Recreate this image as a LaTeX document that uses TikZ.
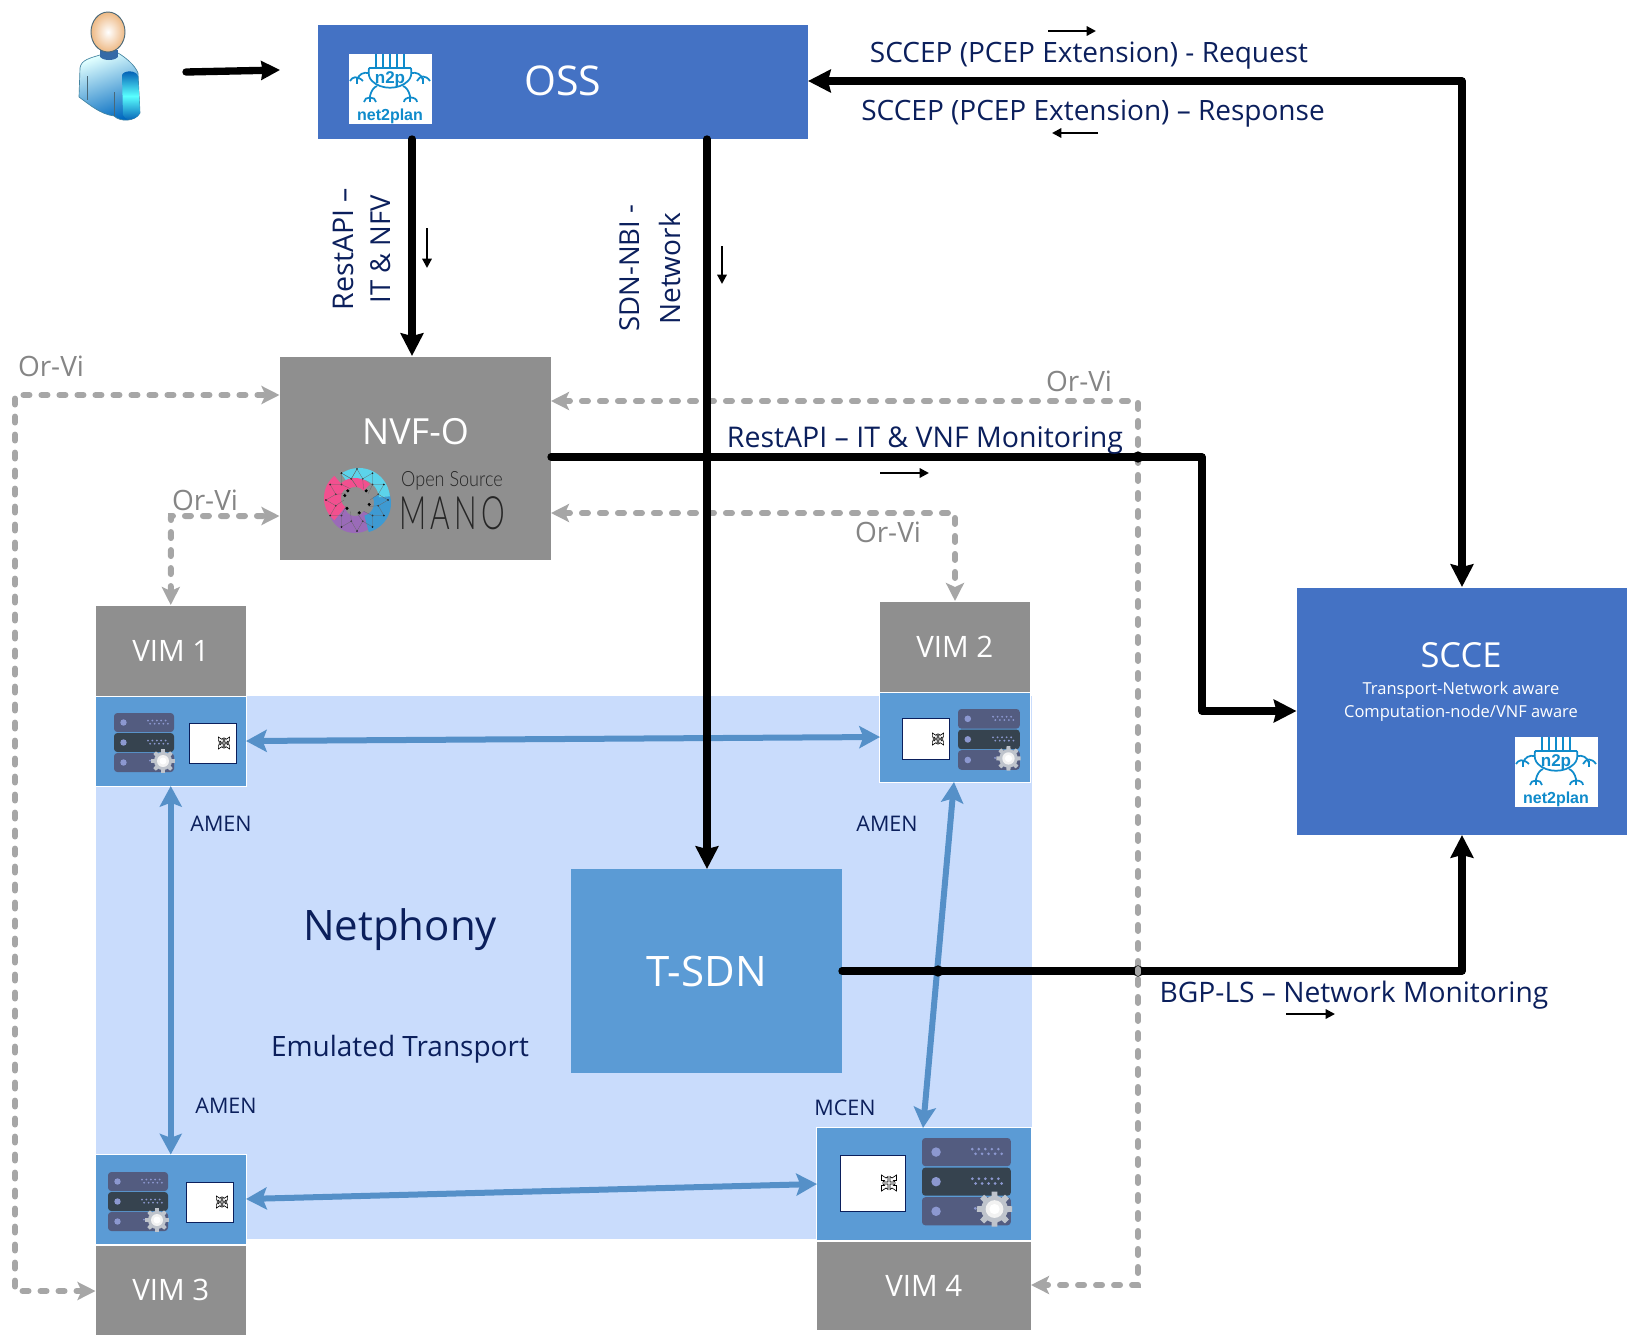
\documentclass[tikz,border=0pt]{standalone}
\usepackage{fontspec}
\setmainfont{Open Sans}
\newfontfamily\logofont{Liberation Sans}
\newfontfamily\manofont{Lato Light}
\usetikzlibrary{arrows.meta,calc}
\definecolor{ossblue}{HTML}{4472C4}
\definecolor{boxgray}{HTML}{8F8F8F}
\definecolor{midblue}{HTML}{5B9BD5}
\definecolor{palebg}{HTML}{C9DCFC}
\definecolor{navytxt}{HTML}{0B1F5C}
\definecolor{dashgray}{HTML}{A6A6A6}
\definecolor{labgray}{HTML}{858585}
\definecolor{logoblue}{HTML}{0F8BCB}
\definecolor{arrblue}{HTML}{5590C8}
\definecolor{srvA}{HTML}{535C80}
\definecolor{srvB}{HTML}{36434F}
\definecolor{srvDot}{HTML}{8C98D0}
\definecolor{geargray}{HTML}{BFC4CC}
\definecolor{manocyan}{HTML}{5CD3EA}
\definecolor{manoblue}{HTML}{3E9AD2}
\definecolor{manopurple}{HTML}{9A6BB8}
\definecolor{manopink}{HTML}{F2508F}
\newcommand{\fsz}[1]{\pgfmathsetmacro{\fszv}{#1*0.75}\fontsize{\fszv}{\fszv}\selectfont}
% box from corners
\newcommand{\pbox}[7]{\node[#2,minimum width={(#5-#3)*0.75pt},minimum height={(#6-#4)*0.75pt}] (#1) at ({(#3+#5)/2},{(#4+#6)/2}) {#7};}
% net2plan logo, top-left at (#1,#2)
\newcommand{\ntplogo}[2]{\begin{scope}[shift={(#1,#2)}]
 \fill[white] (0,0) rectangle (83,70);
 \begin{scope}[draw=logoblue,line width=1.3pt]
 \foreach \v in {27,34,41,48,55}{\draw (\v,0)--(\v,14);}
 \draw (20,14)--(62,14);
 \draw (20,14) .. controls (19,20) and (20,24) .. (23,27) .. controls (32,36) and (50,36) .. (59,27) .. controls (62,24) and (63,20) .. (62,14);
 \draw (20,19) .. controls (14,18) and (10,20) .. (8,26);
 \draw (1,27) .. controls (3,23) and (8,21) .. (14,27);
 \draw (8,24)--(8,30);
 \draw (62,19) .. controls (68,18) and (72,20) .. (74,26);
 \draw (68,27) .. controls (71,21) and (77,21) .. (81,27);
 \draw (74,24)--(74,30);
 \draw (28,32) .. controls (25,33) and (22,37) .. (21,42);
 \draw (15,48) .. controls (15,42) and (27,42) .. (27,48);
 \draw (21,42)--(21,48);
 \draw (54,32) .. controls (57,33) and (60,37) .. (61,42);
 \draw (55,48) .. controls (55,42) and (68,42) .. (68,48);
 \draw (61,42)--(61,48);
 \end{scope}
 \node[text=logoblue,inner sep=0] at (41,25) {\logofont\bfseries\fsz{17}n2p};
 \node[text=logoblue,inner sep=0] at (41,62.5) {\logofont\bfseries\fsz{16}net2plan};
\end{scope}}
% server stack, top-left (#1,#2), scale #3 (1 = 60 px wide)
\newcommand{\srvicon}[3]{\begin{scope}[shift={(#1,#2)},scale=#3]
 \fill[srvA,rounded corners=2.5] (0,0) rectangle (60,19);
 \fill[srvB,rounded corners=2.5] (0,20) rectangle (60,39);
 \fill[srvA,rounded corners=2.5] (0,40) rectangle (60,59);
 \foreach \yy in {9.5,29.5,49.5}{\fill[srvDot] (9.5,\yy) circle[radius=3.2];}
 \foreach \yy in {7.5,27.5}{\foreach \xx in {34,38.4,42.8,47.2,51.6}{\fill[srvDot] (\xx,\yy) circle[radius=1];\fill[srvDot] (\xx+2.2,\yy+3.2) circle[radius=1];}}
 \fill[srvDot] (36,47.5) circle[radius=1];
 \foreach \a in {0,45,...,315}{\fill[geargray] ($(49,48)+(\a-15:8)$) -- ($(49,48)+(\a-9:12)$) -- ($(49,48)+(\a+9:12)$) -- ($(49,48)+(\a+15:8)$) -- cycle;}
 \fill[geargray] (49,48) circle[radius=9];
 \fill[gray!10!white] (49,48) circle[radius=6];
 \fill[white] (49,48) circle[radius=3.5];
\end{scope}}
% small glyph
\newcommand{\glyph}[3]{\begin{scope}[shift={(#1,#2)},scale=#3]
 \foreach \sx/\sy in {1/1,-1/1,1/-1,-1/-1}{
  \draw[black,line width=.5pt,fill=white] (\sx*1,\sy*1) -- (\sx*1,\sy*6.5) -- (\sx*3,\sy*5) -- (\sx*7.5,\sy*8) -- (\sx*7.5,\sy*2.5) -- (\sx*4.5,\sy*2.5) -- (\sx*6,\sy*1) -- cycle;}
\end{scope}}
% annular sector
\newcommand{\sect}[7]{\fill[#7] plot[domain=#5:#6,samples=24] ({#1+#4*cos(\x)},{#2+#4*sin(\x)}) -- plot[domain=#6:#5,samples=24] ({#1+#3*cos(\x)},{#2+#3*sin(\x)}) -- cycle;}
\tikzset{
 fillbox/.style={inner sep=0pt,outer sep=0pt,draw=white,line width=.3pt},
 ossbox/.style={fillbox,fill=ossblue,text=white},
 graybox/.style={fillbox,fill=boxgray,text=white},
 bluebox/.style={fillbox,fill=midblue,text=white},
 card/.style={inner sep=0pt,outer sep=0pt,fill=white,draw=navytxt,line width=.6pt},
 lab/.style={text=navytxt,inner sep=0pt},
 glab/.style={text=labgray,inner sep=0pt},
 blk/.style={draw=black,line width=5.5pt,line cap=round,line join=round},
 blktip/.style={Stealth[length=17pt,width=17pt,inset=2pt]},
 blkarr/.style={blk,-{Stealth[length=17pt,width=17pt,inset=2pt]}},
 blkboth/.style={blk,{Stealth[length=17pt,width=17pt,inset=2pt]}-{Stealth[length=17pt,width=17pt,inset=2pt]}},
 tiny/.style={draw=black,line width=1.6pt,-{Triangle[length=7pt,width=7pt]}},
 orvi/.style={draw=dashgray,line width=4.5pt,line cap=round,dash pattern=on 4.5pt off 9pt,{Stealth[length=13.5pt,width=13.5pt,inset=3pt]}-{Stealth[length=13.5pt,width=13.5pt,inset=3pt]}},
 amen/.style={draw=arrblue,line width=4.5pt,{Stealth[length=15.5pt,width=16.5pt,inset=3pt]}-{Stealth[length=15.5pt,width=16.5pt,inset=3pt]}},
 dot/.style={circle,fill=black,inner sep=0pt,minimum size=8.5pt},
}
\begin{document}
\begin{tikzpicture}[x=0.75pt,y=-0.75pt]
\useasboundingbox (0,0) rectangle (1628,1339);
% background region
\pbox{bg}{inner sep=0pt,outer sep=0pt,fill=palebg}{96}{696}{1032}{1239}{}
% person
\node[minimum width=64pt,minimum height=85pt,inner sep=0pt] (user) at (108,62) {};
\shade[left color=cyan!12!white,right color=cyan!55!blue!75!black,shading angle=20,draw=cyan!60!black,line width=.5pt]
 (100,55) .. controls (90,58) and (81,60) .. (80,68) -- (79,97) .. controls (90,105) and (100,114) .. (114,116) .. controls (120,122) and (135,122) .. (140,113) -- (138,73) .. controls (135,65) and (125,57) .. (118,53) -- cycle;
\shade[top color=cyan!50!blue!70!black,bottom color=cyan!50!blue!70!black,middle color=cyan!65!white,draw=none] (122,75) .. controls (124,70) and (136,70) .. (138,76) -- (140,113) .. controls (135,122) and (124,120) .. (123,115) -- cycle;
\fill[cyan!50!blue!80!black] (100,50) rectangle (118,57);
\fill[cyan!50!blue!80!black] (109,56) ellipse[x radius=9,y radius=4];
\draw[cyan!40!black,line width=.5pt] (87,76)--(87,100) (114,92)--(114,116);
\shade[inner color=white,outer color=orange!50!brown!55!white,draw=none] (108,32) ellipse[x radius=17,y radius=20];
\draw[cyan!40!black,line width=.7pt] (108,32) ellipse[x radius=17,y radius=20];
% boxes
\pbox{oss}{ossbox}{317}{24}{808}{139}{}
\node[text=white,inner sep=0] at (563,81) {\fsz{41}OSS};
\ntplogo{349}{54}
\pbox{nfvo}{graybox}{279.5}{356}{551}{560}{}
\node[text=white,inner sep=0] (nfvotxt) at (415.5,432) {\fsz{36}NVF-O};
\pbox{vimA}{graybox}{95.5}{605}{246}{696}{\fsz{29.5}VIM 1}
\pbox{vimAb}{bluebox}{95.5}{696}{246}{786}{}
\pbox{vimB}{graybox}{879.5}{601}{1030}{692}{\fsz{29.5}VIM 2}
\pbox{vimBb}{bluebox}{879.5}{692}{1030}{782}{}
\pbox{vimCb}{bluebox}{95.5}{1154.5}{246}{1244}{}
\pbox{vimC}{graybox}{95.5}{1245}{246}{1335}{\fsz{29.5}VIM 3}
\pbox{vimDb}{bluebox}{816.5}{1127}{1031}{1240}{}
\pbox{vimD}{graybox}{816.5}{1241}{1031}{1330}{\fsz{29.5}VIM 4}
\pbox{tsdn}{inner sep=0pt,outer sep=0pt,fill=midblue,text=white}{571}{869}{842}{1073}{\fsz{42}T-SDN}
\pbox{scce}{ossbox}{1296.5}{587}{1627}{835}{}
\node[text=white,inner sep=0] at (1461,655) {\fsz{34.5}SCCE};
\node[text=white,inner sep=0] at (1461,690) {\fsz{16.5}Transport-Network aware};
\node[text=white,inner sep=0] at (1461,713) {\fsz{16.5}Computation-node/VNF aware};
\ntplogo{1515}{737}
% server icons and cards
\srvicon{114}{713}{1}
\pbox{cardA}{card}{189}{723}{236}{763}{}
\glyph{224}{743}{.75}
\srvicon{958}{709}{1.03}
\pbox{cardB}{card}{902}{718}{949}{759}{}
\glyph{938}{739}{.75}
\srvicon{108}{1172}{1}
\pbox{cardC}{card}{186}{1182}{233}{1222}{}
\glyph{222}{1202}{.75}
\srvicon{922}{1138}{1.48}
\pbox{cardD}{card}{840}{1155}{905}{1211}{}
\glyph{889}{1183}{1}
% MANO logo
\sect{355}{506}{10}{27}{30}{175}{manopurple}
\sect{361}{503}{13}{30}{-25}{75}{manoblue}
\sect{359}{499}{20}{31}{-125}{-5}{manocyan}
\sect{353}{498}{12}{29}{130}{230}{manopink}
\sect{355}{499}{12}{21}{-135}{-45}{manopink}
\foreach \a in {-120,-90,-60,-30,0,30,60,90,120,150,180,210,240}{
 \fill[black] ($(357,500)+({31*cos(\a)},{31*sin(\a)})$) circle[radius=.9];
 \fill[black] ($(357,500)+({22*cos(\a+15)},{22*sin(\a+15)})$) circle[radius=.9];
 \draw[black!60,line width=.2pt] ($(357,500)+({31*cos(\a)},{31*sin(\a)})$) -- ($(357,500)+({22*cos(\a+15)},{22*sin(\a+15)})$) -- ($(357,500)+({31*cos(\a+30)},{31*sin(\a+30)})$);
 \draw[black!60,line width=.2pt] ($(357,500)+({22*cos(\a+15)},{22*sin(\a+15)})$) -- ($(357,500)+({13*cos(\a+30)},{13*sin(\a+30)})$);
}
\foreach \a in {-135,-45,20,80,140,200}{\fill[black] ($(357,500)+({13*cos(\a)},{13*sin(\a)})$) circle[radius=1.7];}
\node[text=black!85,inner sep=0] at (452,481) {\manofont\fsz{21}\scalebox{.86}[1]{Open Source}};
\node[text=black!85,inner sep=0] at (452,513) {\manofont\addfontfeature{LetterSpace=14}\fsz{46}\scalebox{.65}[1]{MANO}};
% helper coordinates
\coordinate (xa) at (412,0);
\coordinate (xb) at (707,0);
\coordinate (xc) at (1462,0);
\coordinate (ya) at (0,81);
\coordinate (yb) at (0,457);
\coordinate (yc) at (0,711);
\coordinate (yd) at (0,971);
\coordinate (elbowA) at (1202,457);
\coordinate (elbowB) at (1202,711);
\coordinate (elbowC) at (1462,81);
\coordinate (elbowD) at (1462,971);
\coordinate (uA) at (186,72);
\coordinate (uB) at (280,70);
% dashed Or-Vi
\coordinate (oA1) at (15,1291); \coordinate (oA2) at (15,395);
\coordinate (oB1) at (171,516);
\coordinate (oC1) at (955,513);
\coordinate (oD1) at (1138,401); \coordinate (oD2) at (1138,1285);
\coordinate (nyA) at (0,395); \coordinate (nyB) at (0,516); \coordinate (nyC) at (0,513); \coordinate (nyD) at (0,401);
\draw[orvi] (vimC.west |- oA1) -- (oA1) -- (oA2) -- (nfvo.west |- nyA);
\draw[orvi] (vimA.north) -- (oB1) -- (nfvo.west |- nyB);
\draw[orvi] (nfvo.east |- nyC) -- (oC1) -- (vimB.north -| oC1);
\draw[orvi] (nfvo.east |- nyD) -- (oD1) -- (oD2) -- (vimD.east |- oD2);
% blue links
\coordinate (lA) at (246,741); \coordinate (lB) at (880,737);
\coordinate (lC) at (246,1199); \coordinate (lD) at (817,1184);
\coordinate (lE) at (954,782); \coordinate (lF) at (923,1128);
\draw[amen] (lA) -- (lB);
\draw[amen] (vimAb.south) -- (vimCb.north);
\draw[amen] (lE) -- (lF);
\draw[amen] (lC) -- (lD);
% black connectors
\draw[blk,-{Stealth[length=14pt,width=14pt,inset=1pt]}] (uA) -- (uB);
\draw[blkarr] (oss.south -| xa) -- (nfvo.north -| xa);
\draw[blkarr] (oss.south -| xb) -- (tsdn.north -| xb);
\draw[blkboth] (oss.east |- ya) -- (elbowC) -- (scce.north -| xc);
\draw[blkarr] (nfvo.east |- yb) -- (elbowA) -- (elbowB) -- (scce.west |- yc);
\draw[blkarr] (tsdn.east |- yd) -- (elbowD) -- (scce.south -| xc);
% junction dots
\node[dot] (jA) at (707,457) {};
\node[dot] (jB) at (1138,457) {};
\node[dot] (jC) at (938,971) {};
\node[dot] (jD) at (1138,971) {};
\draw[draw=dashgray,line width=4.5pt,line cap=round] ([yshift=-1.5pt]jD.center) -- ([yshift=1.5pt]jD.center);
% small arrows
\coordinate (sa1) at (1048,31); \coordinate (sa2) at (1096,31);
\coordinate (sb1) at (1098,133); \coordinate (sb2) at (1052,133);
\coordinate (sc1) at (427,228); \coordinate (sc2) at (427,268);
\coordinate (sd1) at (722,246); \coordinate (sd2) at (722,284);
\coordinate (se1) at (880,473); \coordinate (se2) at (929,473);
\coordinate (sf1) at (1286,1014); \coordinate (sf2) at (1335,1014);
\draw[tiny] (sa1) -- (sa2);
\draw[tiny] (sb1) -- (sb2);
\draw[tiny] (sc1) -- (sc2);
\draw[tiny] (sd1) -- (sd2);
\draw[tiny] (se1) -- (se2);
\draw[tiny] (sf1) -- (sf2);
% labels
\node[lab] at (1089,56) {\fsz{28}SCCEP (PCEP Extension) - Request};
\node[lab] at (1093,114) {\fsz{28}SCCEP (PCEP Extension) – Response};
\node[lab,rotate=90] at (343,249) {\fsz{28.5}RestAPI –};
\node[lab,rotate=90] at (381,249) {\fsz{27.5}IT \& NFV};
\node[lab,rotate=90] at (630,268) {\fsz{27.5}SDN-NBI -};
\node[lab,rotate=90] at (670,269) {\fsz{28}Network};
\node[lab] at (925,440) {\fsz{28.5}RestAPI – IT \& VNF Monitoring};
\node[lab] at (1354,995) {\fsz{28.2}BGP-LS – Network Monitoring};
\node[glab] at (51,366) {\fsz{28}Or-Vi};
\node[glab] at (1079,381) {\fsz{28}Or-Vi};
\node[glab] at (205,500) {\fsz{28}Or-Vi};
\node[glab] at (888,532) {\fsz{28}Or-Vi};
\node[lab] at (400,930) {\fsz{42}Netphony};
\node[lab] at (400,1049) {\fsz{28}Emulated Transport};
\node[lab] at (221,824) {\fsz{21.5}AMEN};
\node[lab] at (887,824) {\fsz{21.5}AMEN};
\node[lab] at (226,1106) {\fsz{21.5}AMEN};
\node[lab] at (845,1108) {\fsz{21.5}MCEN};
\end{tikzpicture}
\end{document}
